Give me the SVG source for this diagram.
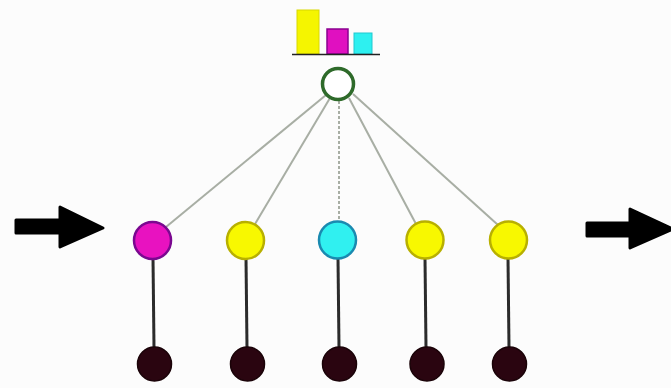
<svg xmlns="http://www.w3.org/2000/svg" width="671" height="388" viewBox="0 0 671 388">
  <style>
    .link { stroke: #a8aea4; stroke-width: 2; fill: none; }
    .stem { stroke: #2b2b2b; stroke-width: 3; }
    .leaf { fill: #2a0510; stroke: #1a0308; stroke-width: 1.5; }
    .unit { stroke-width: 2.5; }
    .arrow { fill: #000; stroke: #000; stroke-width: 3; stroke-linejoin: round; }
  </style>
  <rect width="671" height="388" fill="#fcfcfc"/>

  <!-- bar chart above the pooling node -->
  <g id="histogram">
    <rect x="297" y="10" width="22" height="44" fill="#f5f500" stroke="#d8d800" stroke-width="1"/>
    <rect x="327" y="29" width="21" height="25" fill="#e010c0" stroke="#8a0090" stroke-width="1.5"/>
    <rect x="354" y="33" width="18" height="21" fill="#2ef0f0" stroke="#20c8d0" stroke-width="1"/>
    <line x1="292" y1="54.5" x2="380" y2="54.5" stroke="#222" stroke-width="1.5"/>
  </g>

  <!-- connectors -->
  <g id="connectors">
    <line class="link" x1="326" y1="95" x2="166" y2="227"/>
    <line class="link" x1="330" y1="98" x2="255" y2="224"/>
    <line class="link" x1="339" y1="101" x2="339" y2="222" stroke-dasharray="3 2"/>
    <line class="link" x1="349" y1="98" x2="416" y2="224"/>
    <line class="link" x1="353" y1="94" x2="498" y2="225"/>
    <line class="stem" x1="153" y1="258" x2="154" y2="348"/>
    <line class="stem" x1="246" y1="258" x2="247" y2="348"/>
    <line class="stem" x1="338" y1="258" x2="339" y2="348"/>
    <line class="stem" x1="425" y1="258" x2="426" y2="348"/>
    <line class="stem" x1="508" y1="258" x2="509" y2="348"/>
  </g>

  <!-- pooling node -->
  <g id="pool">
    <circle cx="338" cy="84" r="15.5" fill="#fff" stroke="#2e6a2a" stroke-width="3.5"/>
  </g>

  <!-- hidden units -->
  <g id="unit1"><circle class="unit" cx="152.5" cy="240.5" r="18.5" fill="#e812c0" stroke="#7a0890"/></g>
  <g id="unit2"><circle class="unit" cx="245.5" cy="240.5" r="18.5" fill="#f8f800" stroke="#b8b000"/></g>
  <g id="unit3"><circle class="unit" cx="337.5" cy="240" r="18.5" fill="#30f0f0" stroke="#1a8ab0"/></g>
  <g id="unit4"><circle class="unit" cx="425" cy="240" r="18.5" fill="#f8f800" stroke="#b8b000"/></g>
  <g id="unit5"><circle class="unit" cx="508.5" cy="240" r="18.5" fill="#f8f800" stroke="#b8b000"/></g>

  <!-- input nodes -->
  <g id="leaf1"><circle class="leaf" cx="154.5" cy="364" r="17"/></g>
  <g id="leaf2"><circle class="leaf" cx="247.5" cy="364" r="17"/></g>
  <g id="leaf3"><circle class="leaf" cx="339.5" cy="364" r="17"/></g>
  <g id="leaf4"><circle class="leaf" cx="427" cy="364" r="17"/></g>
  <g id="leaf5"><circle class="leaf" cx="509.5" cy="364" r="17"/></g>

  <!-- flow arrows -->
  <g id="arrow-in">
    <path class="arrow" d="M16 220 L60 220 L60 207 L103 228 L60 247 L60 233 L16 233 Z"/>
  </g>
  <g id="arrow-out">
    <path class="arrow" d="M587 223 L630 223 L630 209 L673 229 L630 248 L630 236 L587 236 Z"/>
  </g>
</svg>
